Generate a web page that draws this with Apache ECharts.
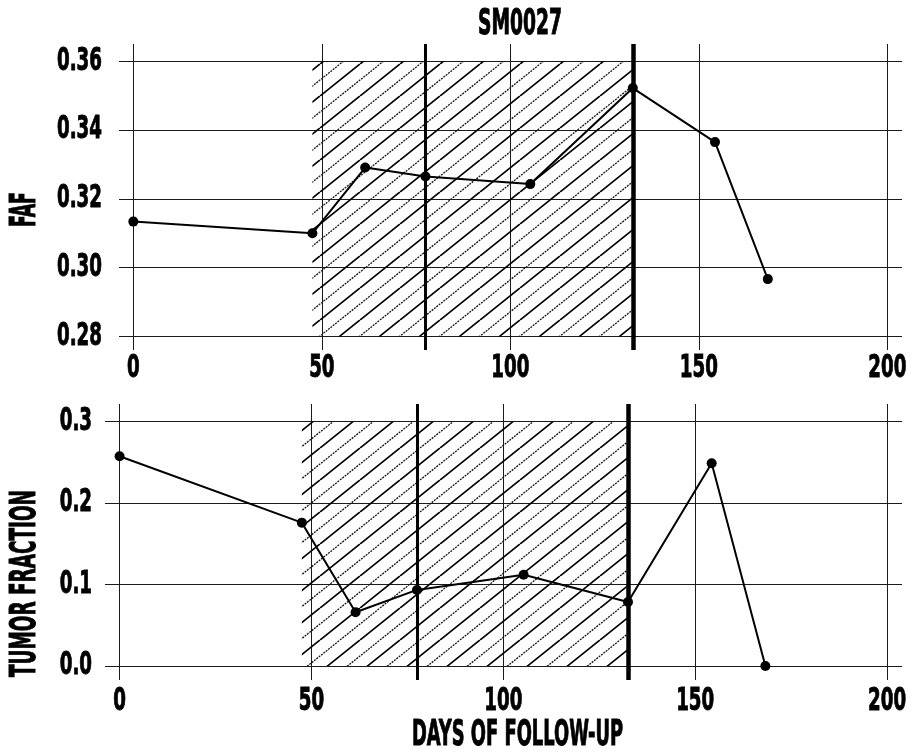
<!DOCTYPE html>
<html>
<head>
<meta charset="utf-8">
<title>SM0027</title>
<script src="https://cdn.jsdelivr.net/npm/echarts@6/dist/echarts.min.js"></script>
<style>
  html, body { margin: 0; padding: 0; background: #fff; }
  #chart { width: 913px; height: 756px; }
</style>
</head>
<body>
<div id="chart"></div>
<script>
// Sampling days and measurements
const days = [0, 47.5, 61.5, 77.5, 105.3, 132.5, 154.3, 168.3];
const faf = [0.3134, 0.3100, 0.3291, 0.3265, 0.3243, 0.3522, 0.3365, 0.2967];
const tumorFraction = [0.2576, 0.176, 0.066, 0.0934, 0.112, 0.0786, 0.249, 0.0];

// Treatment window and event markers (days)
const treatmentStart = 47.5;
const treatmentEnd = 132.5;
const eventDay = 77.5;

// Tick labels
const dayTicks = [0, 50, 100, 150, 200];
const fafTicks = [0.28, 0.30, 0.32, 0.34, 0.36];
const tfTicks = [0.0, 0.1, 0.2, 0.3];

const FAMILY = "'Liberation Sans Narrow', 'DejaVu Sans Condensed', sans-serif";
const TICK_FONT = "bold 32px " + FAMILY;
const HEAD_FONT = "bold 36px " + FAMILY;

const GRIDS = [
  { left: 119, top: 44, width: 783, height: 306 },
  { left: 105, top: 404, width: 797, height: 276 }
];

// Diagonal hatch tile: solid strokes alternating with finer dotted strokes
function hatchTile() {
  const c = document.createElement('canvas');
  c.width = 40; c.height = 32;
  const g = c.getContext('2d');
  g.strokeStyle = '#000';
  g.lineWidth = 1.7;
  [-40, 0, 40].forEach(function (x0) {
    g.beginPath(); g.moveTo(x0, 32); g.lineTo(x0 + 40, 0); g.stroke();
  });
  g.strokeStyle = '#1a1a1a';
  g.lineWidth = 1.3;
  g.setLineDash([2, 1]);
  [-20, 20].forEach(function (x0) {
    g.beginPath(); g.moveTo(x0, 32); g.lineTo(x0 + 40, 0); g.stroke();
  });
  return c;
}
const hatch = { image: hatchTile(), repeat: 'repeat' };

function toPairs(xs, ys) { return xs.map(function (x, i) { return [x, ys[i]]; }); }

function xAxisFor(gridIndex) {
  return {
    type: 'value', gridIndex: gridIndex, min: -3.8, max: 203.9,
    axisLine: { show: false },
    axisTick: { show: false, customValues: dayTicks },
    axisLabel: { show: false },
    splitLine: { show: true, lineStyle: { color: '#1a1a1a', width: 1 } }
  };
}

function yAxisFor(gridIndex, lo, hi, ticks) {
  return {
    type: 'value', gridIndex: gridIndex, min: lo, max: hi,
    axisLine: { show: false },
    axisTick: { show: false, customValues: ticks },
    axisLabel: { show: false },
    splitLine: { show: true, lineStyle: { color: '#1a1a1a', width: 1 } }
  };
}

function treatmentLayer(idx, yLo, yHi) {
  return {
    type: 'line', xAxisIndex: idx, yAxisIndex: idx, z: 1,
    data: [], symbol: 'none', silent: true,
    markArea: {
      silent: true,
      itemStyle: { color: hatch },
      data: [[{ xAxis: treatmentStart, yAxis: yLo }, { xAxis: treatmentEnd, yAxis: yHi }]]
    },
    markLine: {
      silent: true, symbol: ['none', 'none'], label: { show: false },
      data: [
        { xAxis: eventDay, lineStyle: { color: '#000', width: 3, type: 'solid' } },
        { xAxis: treatmentEnd, lineStyle: { color: '#000', width: 4.5, type: 'solid' } }
      ]
    }
  };
}

function measureSeries(idx, values) {
  return {
    type: 'line', xAxisIndex: idx, yAxisIndex: idx, z: 5,
    data: toPairs(days, values),
    symbol: 'circle', symbolSize: 10,
    lineStyle: { color: '#000', width: 2 },
    itemStyle: { color: '#000' }
  };
}

// Condensed text: measured, then squeezed horizontally
const measureCtx = document.createElement('canvas').getContext('2d');
function widthOf(text, font) { measureCtx.font = font; return measureCtx.measureText(text).width; }

function squeezed(text, cx, cy, width, vertical) {
  const s = width / widthOf(text, HEAD_FONT);
  return {
    type: 'text', x: cx, y: cy, scaleX: s, rotation: vertical ? Math.PI / 2 : 0,
    style: {
      text: text, font: HEAD_FONT, fill: '#000', stroke: '#000', lineWidth: 1,
      align: 'center', verticalAlign: 'middle',
      textAlign: 'center', textVerticalAlign: 'middle'
    }
  };
}

// Tick labels share one horizontal squeeze so "0.36" spans 45px
const tickSqueeze = 45 / widthOf('0.36', TICK_FONT);
function tickText(text, x, y, align) {
  return {
    type: 'text', x: x, y: y, scaleX: tickSqueeze,
    style: {
      text: text, font: TICK_FONT, fill: '#000', stroke: '#000', lineWidth: 0.9,
      align: align, verticalAlign: 'middle',
      textAlign: align, textVerticalAlign: 'middle'
    }
  };
}

const chart = echarts.init(document.getElementById('chart'), null, { renderer: 'canvas' });
chart.setOption({
  animation: false,
  backgroundColor: '#fff',
  grid: GRIDS,
  xAxis: [xAxisFor(0), xAxisFor(1)],
  yAxis: [
    yAxisFor(0, 0.2761, 0.3650, fafTicks),
    yAxisFor(1, -0.0172, 0.3217, tfTicks)
  ],
  series: [
    treatmentLayer(0, fafTicks[0], fafTicks[fafTicks.length - 1]),
    treatmentLayer(1, tfTicks[0], tfTicks[tfTicks.length - 1]),
    measureSeries(0, faf),
    measureSeries(1, tumorFraction)
  ]
});

// Tick labels placed through each axis' own scale
const labels = [];
const yLabelGap = [17, 13];
const xLabelDrop = [19, 22];
[0, 1].forEach(function (i) {
  const g = GRIDS[i];
  dayTicks.forEach(function (v) {
    const px = chart.convertToPixel({ xAxisIndex: i }, v);
    labels.push(tickText(String(v), px, g.top + g.height + xLabelDrop[i], 'center'));
  });
  const yt = i === 0 ? fafTicks : tfTicks;
  const digits = i === 0 ? 2 : 1;
  yt.forEach(function (v) {
    const py = chart.convertToPixel({ yAxisIndex: i }, v);
    labels.push(tickText(v.toFixed(digits), g.left - yLabelGap[i], py, 'right'));
  });
});

chart.setOption({
  graphic: labels.concat([
    squeezed('SM0027', 520, 24.5, 84, false),
    squeezed('FAF', 25.5, 209.5, 35, true),
    squeezed('TUMOR FRACTION', 25.8, 583.5, 187, true),
    squeezed('DAYS OF FOLLOW-UP', 517.5, 735.5, 211, false)
  ])
});
</script>
</body>
</html>
